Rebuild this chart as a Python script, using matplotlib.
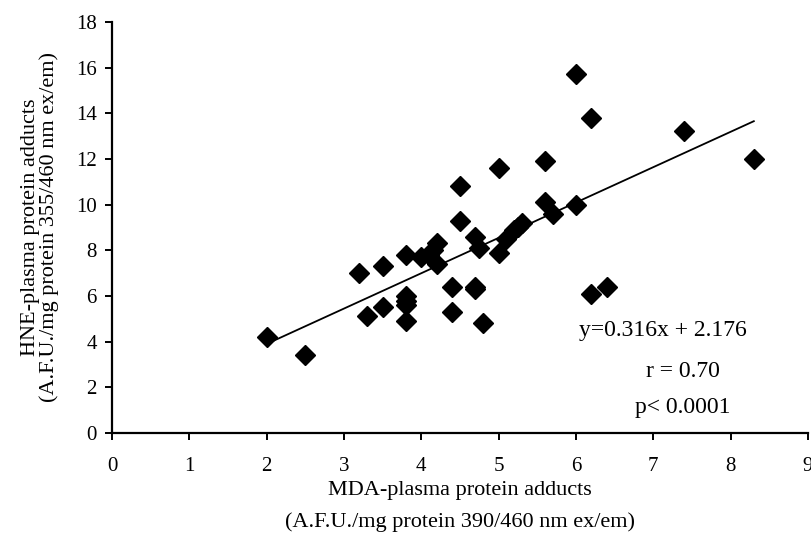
import matplotlib.pyplot as plt

# data
mda = [2.0, 2.5, 3.2, 3.3, 3.5, 3.5, 3.8, 3.8, 3.8, 3.8, 3.8, 4.0, 4.1, 4.15,
       4.2, 4.2, 4.4, 4.4, 4.5, 4.5, 4.7, 4.7, 4.7, 4.75, 4.8, 5.0, 5.0, 5.1,
       5.2, 5.25, 5.3, 5.6, 5.6, 5.7, 6.0, 6.0, 6.2, 6.2, 6.4, 7.4, 8.3]
hne = [4.2, 3.4, 7.0, 5.1, 7.3, 5.5, 7.8, 6.0, 5.8, 5.6, 4.9, 7.7, 7.8, 8.0,
       8.3, 7.4, 6.4, 5.3, 10.8, 9.3, 8.6, 6.4, 6.3, 8.1, 4.8, 11.6, 7.9, 8.5,
       8.9, 9.0, 9.2, 11.9, 10.1, 9.6, 15.7, 10.0, 13.8, 6.1, 6.4, 13.2, 12.0]

# trend line as drawn in the figure
trend_x = [2.0, 8.3]
trend_y = [3.9, 13.65]

x_ticks = list(range(0, 10))
y_ticks = list(range(0, 19, 2))

plt.rcParams['font.family'] = ['Liberation Serif', 'DejaVu Serif']

fig = plt.figure(figsize=(8.12, 5.46), dpi=100)
ax = fig.add_axes([0.138, 0.207, 0.857, 0.753])

ax.plot(mda, hne, 'D', color='black', markersize=10, clip_on=False)
ax.plot(trend_x, trend_y, '-', color='black', linewidth=1.3)

ax.set_xlim(0, 9)
ax.set_ylim(0, 18)
ax.set_xticks(x_ticks)
ax.set_yticks(y_ticks)
ax.spines['top'].set_visible(False)
ax.spines['right'].set_visible(False)
ax.spines['left'].set_linewidth(1.6)
ax.spines['bottom'].set_linewidth(1.6)
ax.tick_params(axis='both', direction='out', length=5, width=1.4,
               labelsize=15, pad=6)
ax.tick_params(axis='x', pad=12)

ax.set_xlabel('MDA-plasma protein adducts\n(A.F.U./mg protein 390/460 nm ex/em)',
              fontsize=16, labelpad=4, linespacing=1.85)
ax.set_ylabel('HNE-plasma protein adducts\n(A.F.U./mg protein 355/460 nm ex/em)',
              fontsize=16, labelpad=12, linespacing=1.0)

ax.text(7.13, 4.47, 'y=0.316x + 2.176', fontsize=17, ha='center', va='center')
ax.text(7.38, 2.67, 'r = 0.70', fontsize=17, ha='center', va='center')
ax.text(7.38, 1.12, 'p< 0.0001', fontsize=17, ha='center', va='center')

fig.savefig('out.png', dpi=100)
